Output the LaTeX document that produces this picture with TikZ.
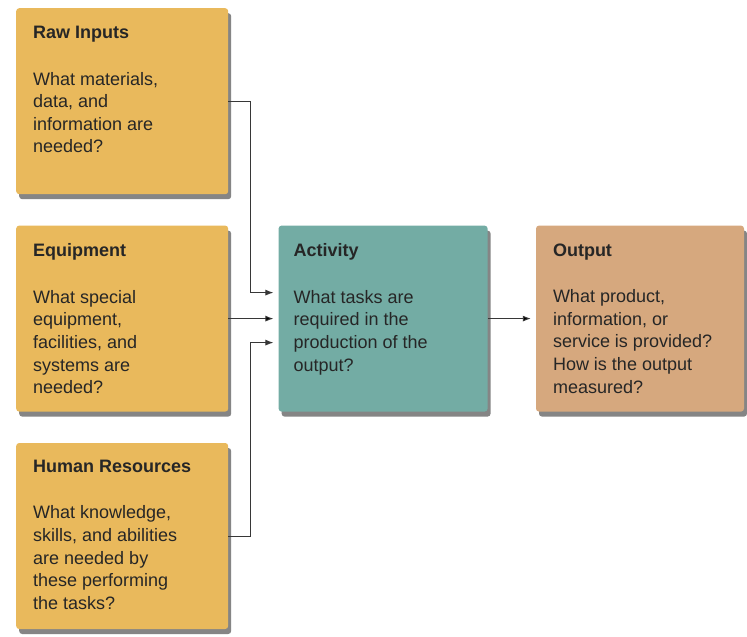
\documentclass[tikz,border=0pt]{standalone}
\usepackage{fontspec}
\setmainfont{Liberation Sans}
\usetikzlibrary{positioning,shadows,arrows.meta}

\definecolor{inputfill}{RGB}{233,185,92}
\definecolor{activityfill}{RGB}{115,172,164}
\definecolor{outputfill}{RGB}{214,168,126}
\definecolor{linegray}{RGB}{55,55,55}

\tikzset{>={Latex[length=8pt,width=6pt]}, node distance = 31pt and 50pt,
  box/.style={rectangle, rounded corners=3pt, minimum width=212pt, minimum height=186pt,
    inner sep=0pt, drop shadow={shadow xshift=3pt, shadow yshift=-5pt, fill=black!60, opacity=.8}},
  txt/.style={anchor=north west, align=left, inner sep=0pt, text=black!85,
    font=\fontsize{18}{22.6}\selectfont},
  link/.style={->, draw=linegray, line width=0.9pt, shorten >=5pt}}

\begin{document}
\begin{tikzpicture}[x=1pt,y=1pt]
			\useasboundingbox (0,0) rectangle (747,-637);
			% the boxes
			\node (R) [box, fill=inputfill, anchor=north west] at (16,-8) {};
			\node (E) [box, fill=inputfill, below=of R] {};
			\node (H) [box, fill=inputfill, below=of E] {};
			\node (A) [box, fill=activityfill, minimum width=209pt, right=of E] {};
			\node (O) [box, fill=outputfill, minimum width=208pt, right=48pt of A] {};
			% their texts
			\node (Rt) [txt] at ([xshift=17pt,yshift=-18pt]R.north west)
			{\textbf{Raw Inputs}\\[24pt] What materials,\\ data, and\\ information are\\ needed?};
			\node (Et) [txt] at ([xshift=17pt,yshift=-18pt]E.north west)
			{\textbf{Equipment}\\[24pt] What special\\ equipment,\\ facilities, and\\ systems are\\ needed?};
			\node (Ht) [txt] at ([xshift=17pt,yshift=-17pt]H.north west)
			{\textbf{Human Resources}\\[24pt] What knowledge,\\ skills, and abilities\\ are needed by\\ these performing\\ the tasks?};
			\node (At) [txt] at ([xshift=15pt,yshift=-18pt]A.north west)
			{\textbf{Activity}\\[24pt] What tasks are\\ required in the\\ production of the\\ output?};
			\node (Ot) [txt] at ([xshift=17pt,yshift=-18pt]O.north west)
			{\textbf{Output}\\[24pt] What product,\\ information, or\\ service is provided?\\ How is the output\\ measured?};
			% connectors
			\draw[link] (R.east) -- ++(22,0) |- ([yshift=26pt]A.west);
			\draw[link] (H.east) -- ++(22,0) |- ([yshift=-24pt]A.west);
			\path[link] (E) edge (A)
			(A) edge (O);
		\end{tikzpicture}
\end{document}
